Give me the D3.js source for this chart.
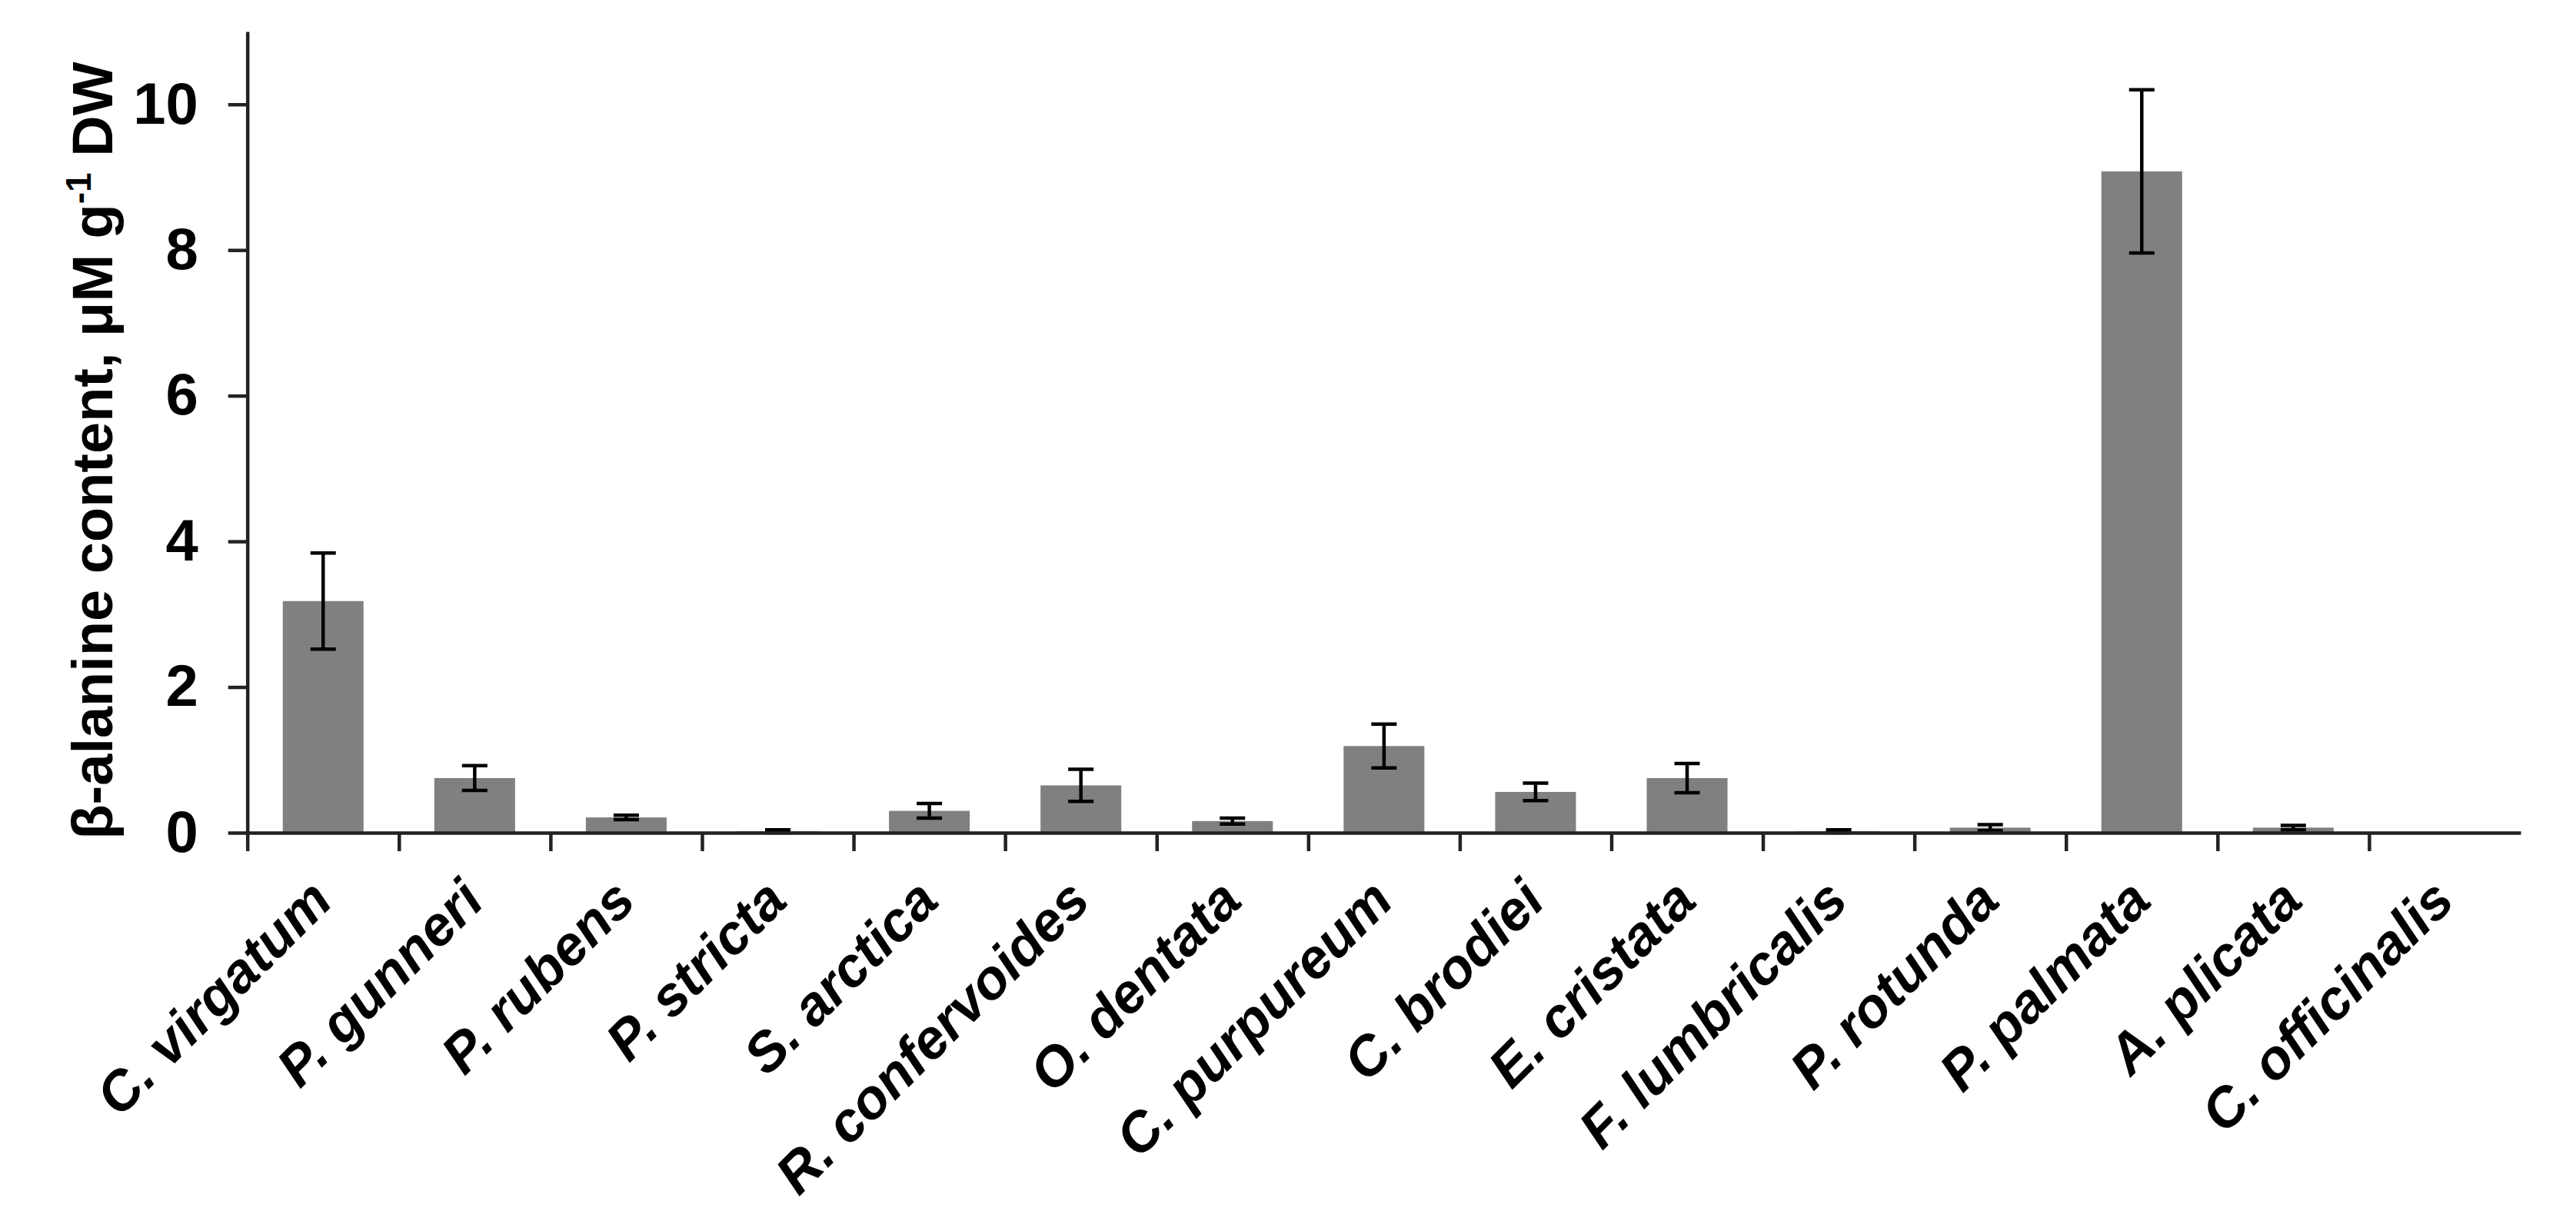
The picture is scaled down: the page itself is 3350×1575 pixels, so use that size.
<!DOCTYPE html>
<html>
<head>
<meta charset="utf-8">
<script src="https://cdn.jsdelivr.net/npm/d3@7"></script>
<style>
  html, body { margin: 0; padding: 0; background: #fff; }
  svg { display: block; }
  text { font-family: "Liberation Sans", Arial, sans-serif; font-weight: bold; fill: #000; }
</style>
</head>
<body>
<svg id="chart" width="3350" height="1575"></svg>
<script>
const categories = ["C. virgatum", "P. gunneri", "P. rubens", "P. stricta", "S. arctica",
  "R. confervoides", "O. dentata", "C. purpureum", "C. brodiei", "E. cristata",
  "F. lumbricalis", "P. rotunda", "P. palmata", "A. plicata", "C. officinalis"];
const values = [3.18, 0.75, 0.21, 0.02, 0.30, 0.65, 0.16, 1.19, 0.56, 0.75, 0.02, 0.07, 9.08, 0.07, 0];
const errors = [0.66, 0.17, 0.03, 0.02, 0.10, 0.22, 0.04, 0.30, 0.12, 0.20, 0.02, 0.04, 1.12, 0.03, 0];
const yTicks = [0, 2, 4, 6, 8, 10];
const yTitle = "β-alanine content, μM g";
const yTitleSup = "-1";
const yTitleEnd = " DW";

(function () {
const svg = d3.select("#chart");
const mLeft = 321.7, mRight = 3278, mBottom = 1083, mTop = 41;

const x = d3.scaleBand().domain(categories).range([mLeft, mRight]).paddingInner(0).paddingOuter(0);
const xb = d3.scaleLinear().domain([0, categories.length]).range([mLeft, mRight]);
const y = d3.scaleLinear().domain([0, 11]).range([mBottom, mTop]);

const data = categories.map((c, i) => ({ c, v: values[i], e: errors[i] }));
const barW = x.bandwidth() * 0.533;

// bars
svg.append("g").selectAll("rect").data(data).join("rect")
  .attr("x", d => x(d.c) + (x.bandwidth() - barW) / 2)
  .attr("width", barW)
  .attr("y", d => y(d.v))
  .attr("height", d => y(0) - y(d.v))
  .attr("fill", "#808080");

// error bars
const capW = 33;
const eg = svg.append("g").attr("stroke", "#000").attr("stroke-width", 4.5);
data.filter(d => d.e > 0).forEach(d => {
  const cx = x(d.c) + x.bandwidth() / 2;
  eg.append("line").attr("x1", cx).attr("x2", cx).attr("y1", y(d.v + d.e)).attr("y2", y(d.v - d.e));
  eg.append("line").attr("x1", cx - capW / 2).attr("x2", cx + capW / 2).attr("y1", y(d.v + d.e)).attr("y2", y(d.v + d.e));
  eg.append("line").attr("x1", cx - capW / 2).attr("x2", cx + capW / 2).attr("y1", y(d.v - d.e)).attr("y2", y(d.v - d.e));
});

// y axis
const yAxis = svg.append("g").attr("transform", `translate(${mLeft},0)`)
  .call(d3.axisLeft(y).tickValues(yTicks).tickFormat(d3.format("d")).tickSizeInner(25).tickSizeOuter(0).tickPadding(39));
yAxis.select(".domain").attr("stroke", "#222").attr("stroke-width", 4.5);
yAxis.selectAll(".tick line").attr("stroke", "#222").attr("stroke-width", 4.5);
yAxis.selectAll(".tick text").attr("font-size", 76).attr("font-family", "'Liberation Sans', Arial, sans-serif").attr("font-weight", "bold").attr("fill", "#000");

// x axis (ticks at category boundaries)
const xAxis = svg.append("g").attr("transform", `translate(0,${mBottom})`)
  .call(d3.axisBottom(xb).tickValues(d3.range(0, categories.length)).tickFormat("").tickSizeInner(24).tickSizeOuter(0));
xAxis.select(".domain").attr("stroke", "#222").attr("stroke-width", 4.5);
xAxis.selectAll(".tick line").attr("stroke", "#222").attr("stroke-width", 4.5);

// category labels
svg.append("g").selectAll("text").data(categories).join("text")
  .attr("transform", d => `translate(${x(d) + x.bandwidth() / 2 + 15},${mBottom + 92}) rotate(-45)`)
  .attr("text-anchor", "end")
  .attr("font-size", 72)
  .attr("font-style", "italic")
  .text(d => d);

// y title
const t = svg.append("text")
  .attr("transform", "translate(146,586) rotate(-90)")
  .attr("text-anchor", "middle")
  .attr("font-size", 74);
t.append("tspan").text(yTitle);
t.append("tspan").attr("font-size", 46).attr("dy", -28).text(yTitleSup);
t.append("tspan").attr("dy", 28).text(yTitleEnd);
})();
</script>
</body>
</html>
